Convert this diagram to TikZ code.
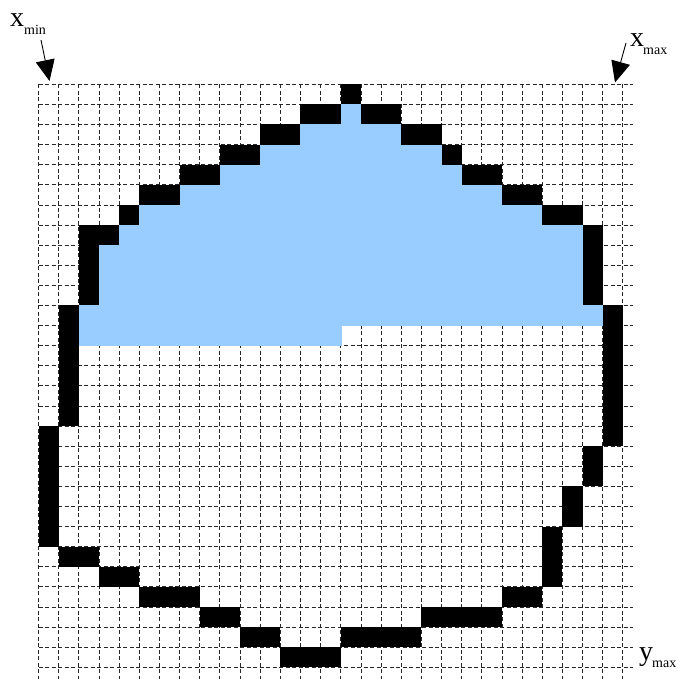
\documentclass[tikz,border=0pt]{standalone}
\usepackage{fontspec}
\setmainfont{Liberation Serif}
\usetikzlibrary{arrows.meta}
\definecolor{cellblue}{HTML}{99CCFF}
\begin{document}
\begin{tikzpicture}[x=1pt,y=-1pt,
  gridline/.style={black!85, line width=0.8pt, dash pattern=on 4pt off 2.5pt},
  bluecell/.style={fill=cellblue, draw=cellblue, line width=0.4pt},
  blackcell/.style={fill=black},
  bigletter/.style={font=\fontsize{28}{28}\selectfont, inner sep=0pt, anchor=base west},
  sublabel/.style={font=\fontsize{14}{14}\selectfont, inner sep=0pt, anchor=base west},
  pointer/.style={line width=0.9pt, -{Triangle[length=21pt,width=19pt]}}]
\useasboundingbox (0,0) rectangle (677,679);
\fill[white] (0,0) rectangle (677,679);
% grid
\foreach \j in {0,...,29}
  \draw[gridline] (38.5, 84.3+20.1*\j) -- (633, 84.3+20.1*\j);
\foreach \i in {0,...,29}
  \draw[gridline] (38.5+20.15*\i, 84.3) -- (38.5+20.15*\i, 679);
% blue region (row/first col/last col)
\foreach \r/\a/\b in {1/15/15, 2/13/17, 3/11/19, 4/9/20, 5/7/22, 6/5/24, 7/4/26,
                      8/3/26, 9/3/26, 10/3/26, 11/2/27, 12/2/14}
  \path[bluecell] (38.5+20.15*\a, 84.3+20.1*\r) rectangle (38.5+20.15*\b+20.15, 84.3+20.1*\r+20.1);
% black cells (col/row)
\foreach \c/\r in {15/0,
  13/1, 14/1, 16/1, 17/1,
  11/2, 12/2, 18/2, 19/2,
  9/3, 10/3, 20/3,
  7/4, 8/4, 21/4, 22/4,
  5/5, 6/5, 23/5, 24/5,
  4/6, 25/6, 26/6,
  2/7, 3/7, 27/7,
  2/8, 27/8, 2/9, 27/9, 2/10, 27/10,
  1/11, 28/11, 1/12, 28/12, 1/13, 28/13, 1/14, 28/14, 1/15, 28/15, 1/16, 28/16,
  0/17, 28/17,
  0/18, 27/18, 0/19, 27/19,
  0/20, 26/20, 0/21, 26/21,
  0/22, 25/22,
  1/23, 2/23, 25/23,
  3/24, 4/24, 25/24,
  5/25, 6/25, 7/25, 23/25, 24/25,
  8/26, 9/26, 19/26, 20/26, 21/26, 22/26,
  10/27, 11/27, 15/27, 16/27, 17/27, 18/27,
  12/28, 13/28, 14/28}
  \fill[blackcell] (38.5+20.15*\c, 84.3+20.1*\r) rectangle ++(20.15, 20.1);
% labels
\node[bigletter] (xminx) at (10,27) {x};
\node[sublabel] (xminsub) at (24,35) {min};
\node[bigletter] (xmaxx) at (630,47) {x};
\node[sublabel] (xmaxsub) at (643,55) {max};
\node[bigletter] (ymaxy) at (639,660) {y};
\node[sublabel] (ymaxsub) at (652,667) {max};
% arrows
\coordinate (xminA) at (41,40);
\coordinate (xminT) at (49.5,81);
\coordinate (xmaxA) at (626,43);
\coordinate (xmaxT) at (615,82.5);
\draw[pointer] (xminA) -- (xminT);
\draw[pointer] (xmaxA) -- (xmaxT);
\end{tikzpicture}
\end{document}
